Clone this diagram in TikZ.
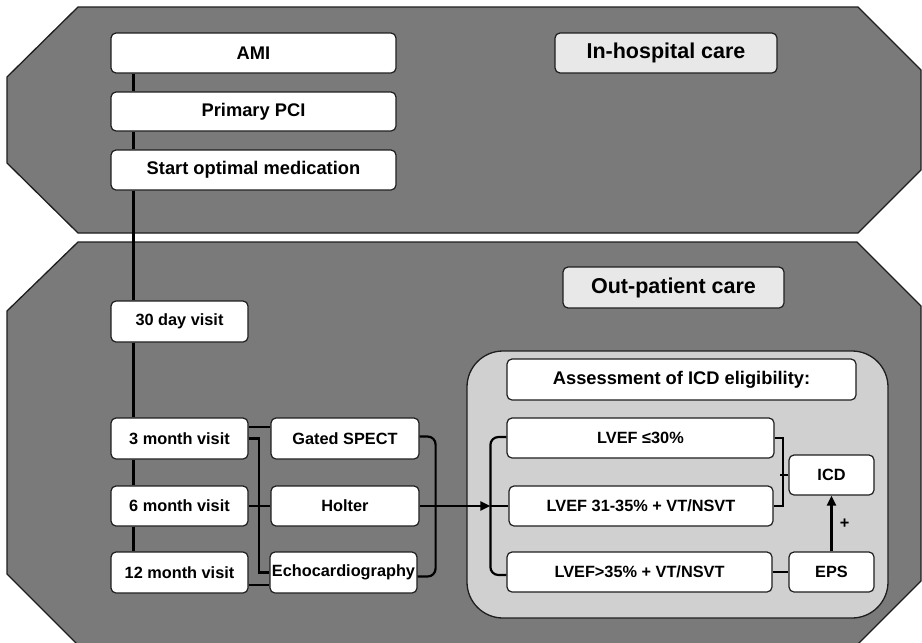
\documentclass[tikz,border=0pt]{standalone}
\usepackage{fontspec}
\setmainfont{Liberation Sans}
\usetikzlibrary{arrows.meta,calc}
\definecolor{bandgray}{HTML}{7A7A7A}
\definecolor{groupgray}{HTML}{D0D0D0}
\definecolor{titlegray}{HTML}{E8E8E8}
\definecolor{edgegray}{HTML}{1E1E1E}
\begin{document}
\begin{tikzpicture}[x=1pt,y=-1pt,
  band/.style={fill=bandgray,draw=edgegray,line width=1.3pt},
  box/.style={draw=edgegray,fill=white,line width=1.2pt,rounded corners=5pt,inner sep=0pt,font=\bfseries\fontsize{16.3}{18}\selectfont},
  bigbox/.style={box,font=\bfseries\fontsize{18.3}{20}\selectfont},
  titlebox/.style={box,fill=titlegray,font=\bfseries\fontsize{21.5}{24}\selectfont},
  conn/.style={draw=black,line width=2.2pt},
  arr/.style={conn,-{Triangle[length=10pt,width=9pt]}},
  grp/.style={fill=groupgray,draw=edgegray,line width=1.3pt,rounded corners=36pt}]
\useasboundingbox (0,0) rectangle (922,643);
% bands
\draw[band] (78,7) -- (858,7) -- (921,70) -- (921,170) -- (858,233) -- (78,233) -- (7,163) -- (7,77) -- cycle;
\draw[band] (78,242) -- (857,242) -- (921,306) -- (921,581) -- (857,645) -- (78,645) -- (7,574) -- (7,311) -- cycle;
% assessment group
\draw[grp] (467,351) rectangle (888,618);
% nodes
\node[bigbox,minimum width=285pt,minimum height=40pt] (ami) at (253.5,53) {AMI};
\node[bigbox,minimum width=285pt,minimum height=39pt] (pci) at (253.5,111.5) {Primary PCI};
\node[bigbox,minimum width=285pt,minimum height=40pt] (med) at (253.5,170) {Start optimal medication};
\node[titlebox,minimum width=222pt,minimum height=40pt] (inh) at (666,53) {In-hospital care};
\node[titlebox,minimum width=221pt,minimum height=41pt] (outp) at (673.5,287.5) {Out-patient care};
\node[box,minimum width=137pt,minimum height=41pt] (d30) at (179.5,321.5) {30 day visit};
\node[box,minimum width=137pt,minimum height=41pt] (m3) at (179.5,438.5) {3 month visit};
\node[box,minimum width=137pt,minimum height=40pt] (m6) at (179.5,506) {6 month visit};
\node[box,minimum width=137pt,minimum height=41pt] (m12) at (179.5,572.5) {12 month visit};
\node[box,minimum width=148pt,minimum height=41pt] (gs) at (345,438.5) {Gated SPECT};
\node[box,minimum width=148pt,minimum height=40pt] (hol) at (345,506) {Holter};
\node[box,minimum width=147pt,minimum height=41pt] (echo) at (343.5,572.5) {Echocardiography};
\node[bigbox,minimum width=349pt,minimum height=41pt] (assess) at (681.5,379.5) {Assessment of ICD eligibility:};
\node[box,minimum width=267pt,minimum height=40pt] (l30) at (640.5,438) {LVEF ≤30\%};
\node[box,minimum width=264pt,minimum height=40pt] (l31) at (641,506) {LVEF 31-35\% + VT/NSVT};
\node[box,minimum width=265pt,minimum height=40pt] (l35) at (639.5,572) {LVEF>35\% + VT/NSVT};
\node[box,minimum width=85pt,minimum height=40pt] (icd) at (831.5,475) {ICD};
\node[box,minimum width=85pt,minimum height=40pt] (eps) at (831.5,572) {EPS};
% vertical timeline
\draw[conn] ([xshift=23pt]ami.south west) -- ([xshift=23pt]pci.north west);
\draw[conn] ([xshift=23pt]pci.south west) -- ([xshift=23pt]med.north west);
\draw[conn] ([xshift=23pt]med.south west) -- ([xshift=23pt]d30.north west);
\draw[conn] ([xshift=23pt]d30.south west) -- ([xshift=23pt]m3.north west);
\draw[conn] ([xshift=23pt]m3.south west) -- ([xshift=23pt]m6.north west);
\draw[conn] ([xshift=23pt]m6.south west) -- ([xshift=23pt]m12.north west);
% visits to tests
\draw[conn] ([yshift=11.5pt]m3.east) -- ([yshift=11.5pt]gs.west);
\draw[conn] (m3.east) -- ++(10,0) |- (echo.west);
\draw[conn] (m6.east) -- (hol.west);
\draw[conn] ([yshift=-12.5pt]m12.east) -- ([yshift=-12.5pt]echo.west);
\draw[conn,rounded corners=8pt] ([yshift=2pt]gs.east) -- ++(16,0) |- ([yshift=-4pt]echo.east);
% to assessment
\coordinate (jn) at ($(l31.west)+(-18,0)$);
\draw[arr] (hol.east) -- (jn);
\draw[conn] (jn) -- (l31.west);
\draw[conn,rounded corners=8pt] ([yshift=1pt]l30.west) -- ++(-16,0) |- ([yshift=-3pt]l35.west);
\draw[conn] (l30.east) -- ++(8,0) |- (l31.east);
\draw[conn] (icd.west) -- ++(-8,0);
\draw[conn] (l35.east) -- (eps.west);
\draw[arr] (eps.north) -- node[right=4pt,font=\bfseries\fontsize{16.3}{18}\selectfont] {+} (icd.south);
\end{tikzpicture}
\end{document}
